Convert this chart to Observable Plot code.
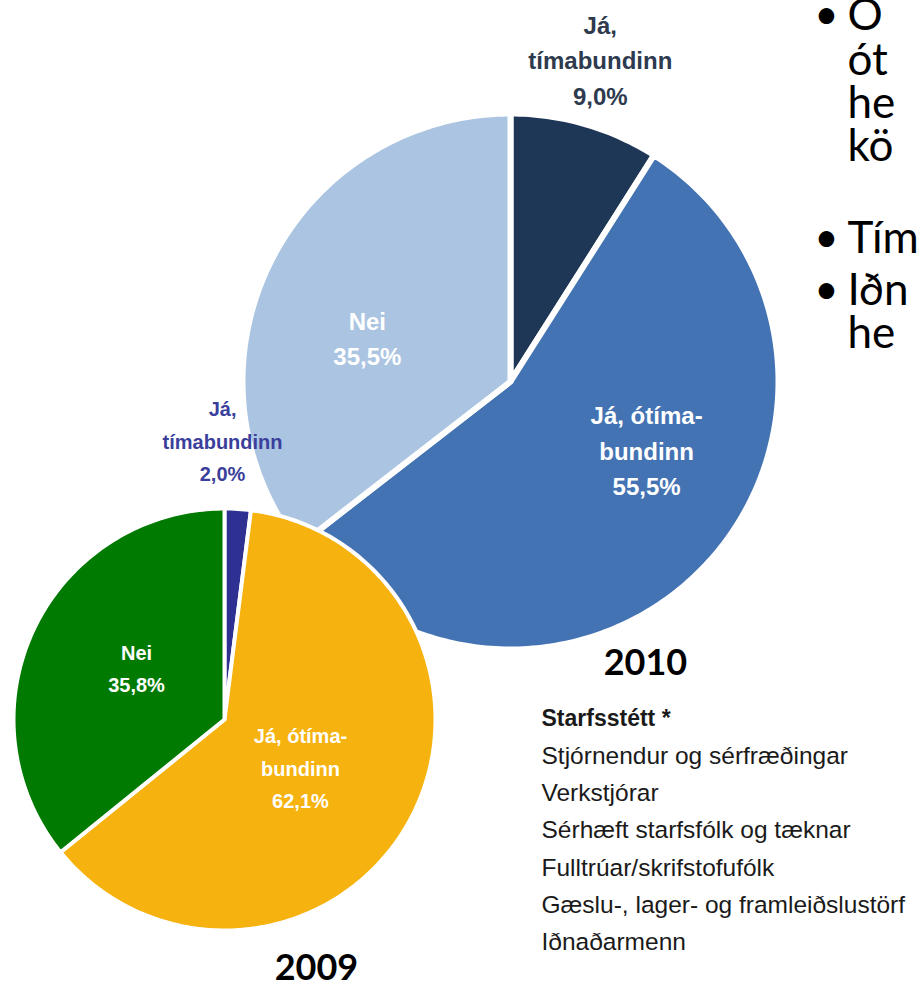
<!DOCTYPE html>
<html>
<head>
<meta charset="utf-8">
<script src="https://cdn.jsdelivr.net/npm/d3@7"></script>
<script src="https://cdn.jsdelivr.net/npm/@observablehq/plot@0.6"></script>
<style>
  html, body { margin: 0; padding: 0; background: #ffffff; }
  #chart { width: 918px; height: 986px; overflow: hidden; }
</style>
</head>
<body>
<div id="chart"></div>
<script>
// ---------------- DATA ----------------
const categories = ["Já, tímabundinn", "Já, ótímabundinn", "Nei"];
const values2010 = [9.0, 55.5, 35.5];
const values2009 = [2.0, 62.1, 35.8];
const labels2010 = ["Já,\ntímabundinn\n9,0%", "Já, ótíma-\nbundinn\n55,5%", "Nei\n35,5%"];
const labels2009 = ["Já,\ntímabundinn\n2,0%", "Já, ótíma-\nbundinn\n62,1%", "Nei\n35,8%"];
const yearLabels = ["2010", "2009"];
const legendTitle = "Starfsstétt *";
const legendItems = [
  "Stjórnendur og sérfræðingar",
  "Verkstjórar",
  "Sérhæft starfsfólk og tæknar",
  "Fulltrúar/skrifstofufólk",
  "Gæslu-, lager- og framleiðslustörf",
  "Iðnaðarmenn"
];
const bulletLines = ["Ó", "ót", "he", "kö", "Tím", "Iðn", "he"];
const bulletFlags = [true, false, false, false, true, true, false];

// ---------------- LAYOUT / STYLE ----------------
const W = 918, H = 986;
const pie2010 = {cx: 510, cy: 381, r: 268, sw: 6,
  colors: ["#1f3756", "#4473b3", "#abc4e1"],
  labelColors: ["#2e3a4e", "#ffffff", "#ffffff"],
  labelPolar: [[15.5, 1.254], [116.2, 0.566], [287.5, 0.56]],
  fontSize: 24, lineHeight: 1.48};
const pie2009 = {cx: 224, cy: 719, r: 211, sw: 4,
  colors: ["#2e3192", "#f6b20e", "#007a00"],
  labelColors: ["#3b3f9c", "#ffffff", "#ffffff"],
  labelPolar: [[359.6, 1.332], [121.2, 0.421], [301.5, 0.489]],
  fontSize: 20, lineHeight: 1.62};
const yearPos = [[645, 663], [316, 968]];
const legendPos = {x: 541, y0: 718, dy: 37.3};
const bulletPos = {xBullet: 826, xText: 847, ys: [15, 60, 103, 146, 238, 290, 333]};
const labelFont = "'Liberation Sans', Arial, Helvetica, sans-serif";
const slideFont = "Lato, 'Open Sans', sans-serif";

// ---------------- GEOMETRY ----------------
function wedges(values, pie) {
  const arcs = d3.pie().sort(null).value(d => d)(values);
  return arcs.map((a, i) => {
    const n = Math.max(2, Math.ceil((a.endAngle - a.startAngle) * 180 / Math.PI));
    const pts = [{x: pie.cx, y: pie.cy}];
    for (let k = 0; k <= n; k++) {
      const t = a.startAngle + (a.endAngle - a.startAngle) * k / n;
      pts.push({x: pie.cx + pie.r * Math.sin(t), y: pie.cy - pie.r * Math.cos(t)});
    }
    return {category: categories[i], pts, fill: pie.colors[i]};
  });
}
function labelRows(texts, pie) {
  return texts.map((t, i) => {
    const [deg, k] = pie.labelPolar[i];
    const a = deg * Math.PI / 180;
    return {text: t, x: pie.cx + k * pie.r * Math.sin(a), y: pie.cy - k * pie.r * Math.cos(a), fill: pie.labelColors[i]};
  });
}
function pieMarks(values, pie) {
  return wedges(values, pie).map(s => Plot.line(s.pts, {x: "x", y: "y", fill: s.fill, stroke: "#ffffff",
    strokeWidth: pie.sw, strokeLinejoin: "round", curve: "linear-closed"}));
}
function pieLabels(texts, pie) {
  return Plot.text(labelRows(texts, pie), {x: "x", y: "y", text: "text", fill: "fill",
    fontSize: pie.fontSize, fontWeight: "bold", fontFamily: labelFont, lineHeight: pie.lineHeight,
    textAnchor: "middle"});
}

const yearRows = yearLabels.map((t, i) => ({text: t, x: yearPos[i][0], y: yearPos[i][1]}));
const legendRows = [legendTitle, ...legendItems].map((t, i) => ({text: t, x: legendPos.x, y: legendPos.y0 + i * legendPos.dy, bold: i === 0}));
const bulletRows = bulletLines.map((t, i) => ({text: t, bullet: bulletFlags[i], y: bulletPos.ys[i]}));

const plot = Plot.plot({
  width: W, height: H,
  margin: 0, marginTop: 0, marginRight: 0, marginBottom: 0, marginLeft: 0,
  x: {domain: [0, W], range: [0, W], axis: null},
  y: {domain: [0, H], range: [0, H], axis: null},
  color: {type: "identity"},
  style: {background: "#ffffff", overflow: "hidden"},
  marks: [
    ...pieMarks(values2010, pie2010),
    pieLabels(labels2010, pie2010),
    ...pieMarks(values2009, pie2009),
    pieLabels(labels2009, pie2009),
    Plot.text(yearRows, {x: "x", y: "y", text: "text", fill: "#000000", fontSize: 36, fontWeight: "bold", fontFamily: slideFont, textAnchor: "middle"}),
    Plot.text(legendRows.filter(d => d.bold), {x: "x", y: "y", text: "text", fill: "#1a1a1a", fontSize: 23, fontWeight: "bold", fontFamily: labelFont, textAnchor: "start"}),
    Plot.text(legendRows.filter(d => !d.bold), {x: "x", y: "y", text: "text", fill: "#1a1a1a", fontSize: 24.5, fontFamily: labelFont, textAnchor: "start"}),
    Plot.text(bulletRows.filter(d => d.bullet), {x: () => bulletPos.xBullet, y: "y", text: () => "•", fill: "#000000", fontSize: 42, fontFamily: slideFont, textAnchor: "middle"}),
    Plot.text(bulletRows, {x: () => bulletPos.xText, y: "y", text: "text", fill: "#000000", fontSize: 44, fontFamily: slideFont, textAnchor: "start"})
  ]
});
document.getElementById("chart").appendChild(plot);
</script>
</body>
</html>
